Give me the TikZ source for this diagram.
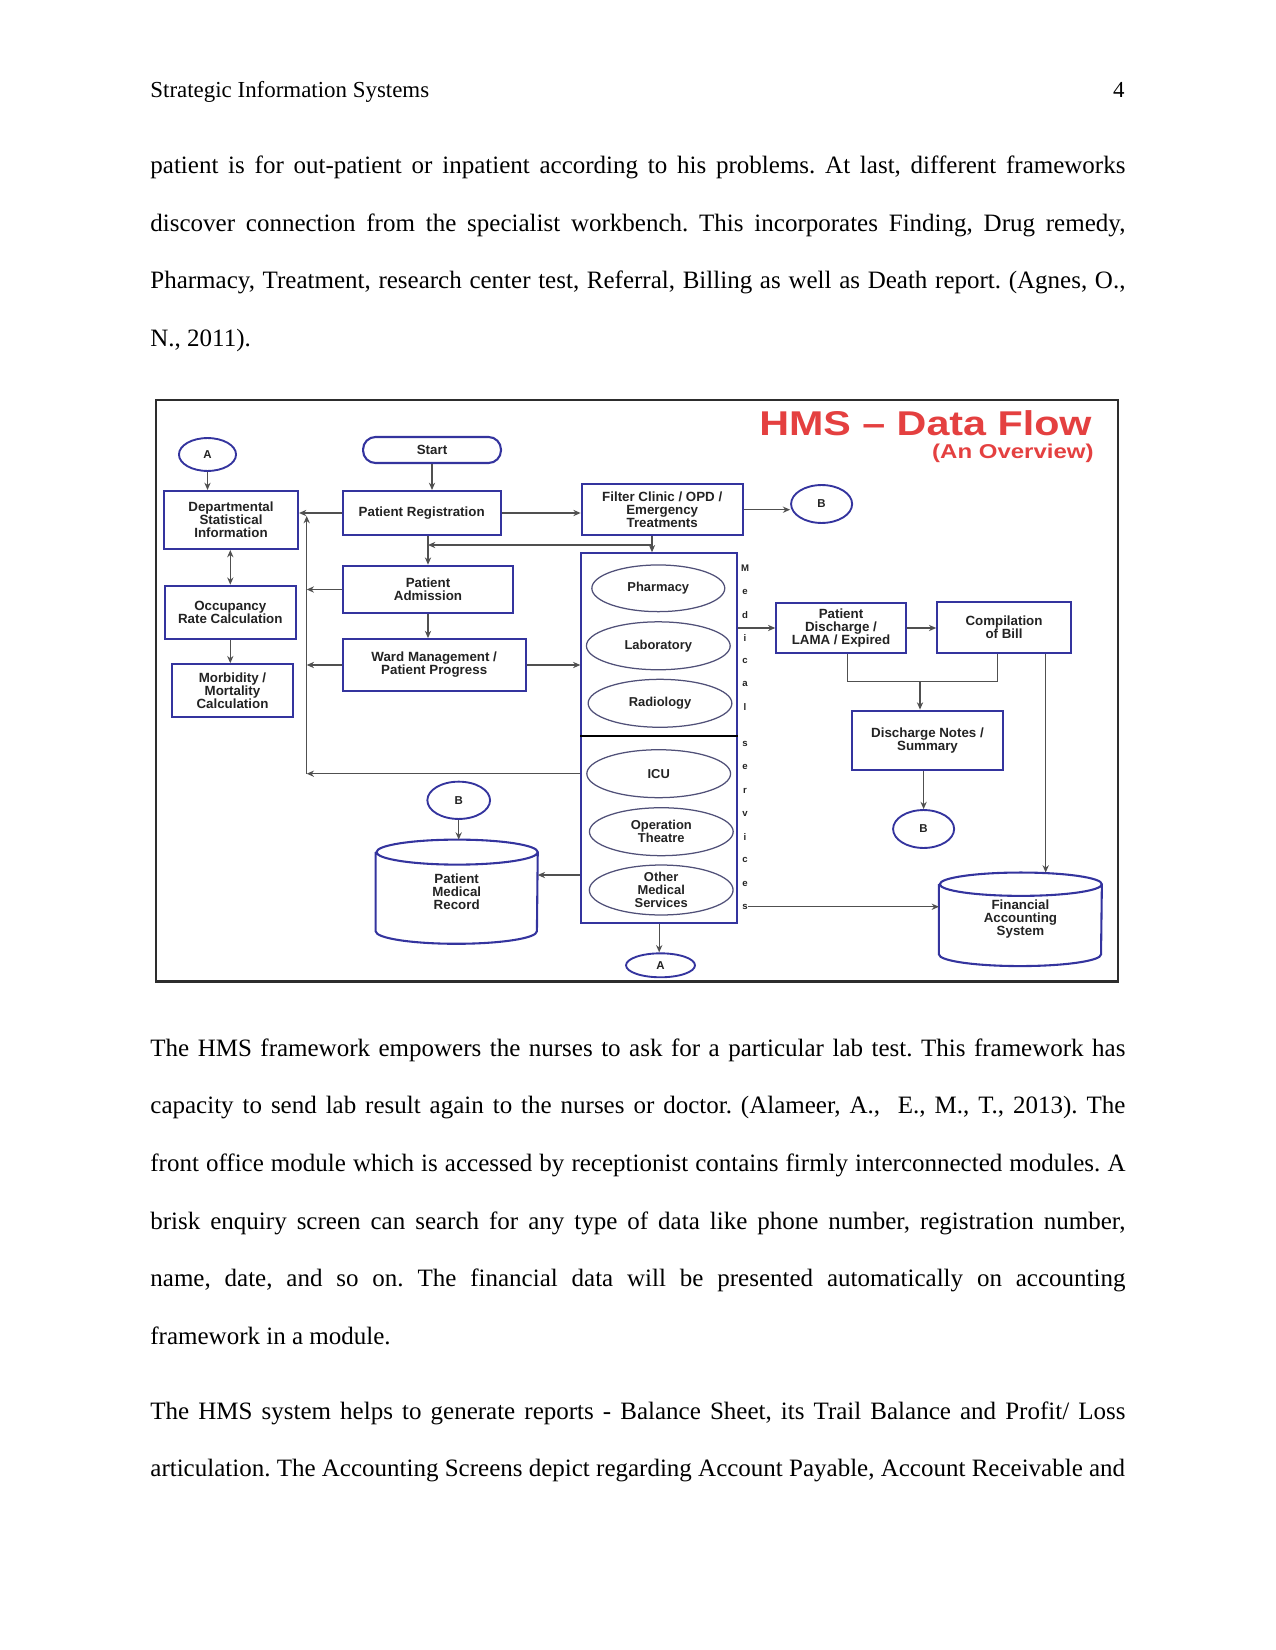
\documentclass[tikz,border=0pt]{standalone}
\usepackage{fontspec}
\setmainfont{Liberation Serif}
\newfontfamily\diafont{Liberation Sans}
\usepackage{graphicx}
\usetikzlibrary{shapes.geometric, arrows.meta, positioning}

\definecolor{boxblue}{RGB}{52,52,158}
\definecolor{ovalgray}{RGB}{80,80,120}
\definecolor{linegray}{RGB}{80,80,80}
\definecolor{framegray}{RGB}{45,45,45}
\definecolor{titlered}{RGB}{228,64,64}
\definecolor{textgray}{RGB}{35,35,35}

% outline of a data store drawn round a named node: name, half width, cap radius
\newcommand\dbdraw[3]{%
  \draw[draw=boxblue, line width=1pt] ([yshift=-#3]#1.north west) -- ([yshift=#3]#1.south west)
    arc[start angle=180, end angle=360, x radius=#2, y radius=#3]
    -- ([yshift=-#3]#1.north east)
    arc[start angle=0, end angle=180, x radius=#2, y radius=#3]
    arc[start angle=180, end angle=360, x radius=#2, y radius=#3];}

\begin{document}
\begin{tikzpicture}[
    x=0.48pt, y=-0.48pt,
    proc/.style={rectangle, draw=boxblue, line width=1pt, fill=white, align=center, inner sep=1pt,
        text=textgray, font=\diafont\bfseries\fontsize{6.4}{6.2}\selectfont},
    conn/.style={ellipse, draw=boxblue, line width=0.9pt, fill=white, inner sep=0pt,
        minimum width=29.3pt, minimum height=18.2pt, text=textgray, font=\diafont\bfseries\fontsize{5.5}{6}\selectfont},
    svc/.style={ellipse, draw=ovalgray, line width=0.6pt, fill=white, inner sep=0pt, align=center,
        minimum width=69pt, minimum height=23pt, text=textgray, font=\diafont\bfseries\fontsize{6.2}{6.2}\selectfont},
    store/.style={rectangle, inner sep=0pt, align=center, text=textgray,
        font=\diafont\bfseries\fontsize{6.4}{6.2}\selectfont},
    vlet/.style={inner sep=0pt, text=textgray, font=\diafont\bfseries\fontsize{4.6}{5}\selectfont},
    flow/.style={draw=linegray, line width=0.6pt, -{Stealth[length=3.5pt,width=3pt]}},
    link/.style={draw=linegray, line width=0.6pt},
    para/.style={anchor=base west, inner sep=0pt, text width=468pt, align=justify,
        font=\fontsize{12}{27.7}\selectfont}
]
\useasboundingbox (0,0) rectangle (1275,1650);

% page header
\node[anchor=base west, inner sep=0pt, font=\fontsize{11}{13}\selectfont] (hdr) at (150,98) {Strategic Information Systems};
\node[anchor=base east, inner sep=0pt, font=\fontsize{11}{13}\selectfont] (pgno) at (1125,98) {4};

% body text
\node[para] (p1) at (150,173.5) {\frenchspacing\hyphenpenalty=10000\exhyphenpenalty=10000
patient is for out-patient or inpatient according to his problems. At last, different frameworks\linebreak
discover connection from the specialist workbench. This incorporates Finding, Drug remedy,\linebreak
Pharmacy, Treatment, research center test, Referral, Billing as well as Death report. (Agnes, O.,\linebreak
N., 2011).};
\node[para] (p2) at (150,1056) {\frenchspacing\hyphenpenalty=10000\exhyphenpenalty=10000
The HMS framework empowers the nurses to ask for a particular lab test. This framework has\linebreak
capacity to send lab result again to the nurses or doctor. (Alameer, A.,\ \ E., M., T., 2013). The\linebreak
front office module which is accessed by receptionist contains firmly interconnected modules. A\linebreak
brisk enquiry screen can search for any type of data like phone number, registration number,\linebreak
name, date, and so on. The financial data will be presented automatically on accounting\linebreak
framework in a module.};
\node[para] (p3) at (150,1419) {\frenchspacing\hyphenpenalty=10000\exhyphenpenalty=10000\parfillskip=0pt
The HMS system helps to generate reports - Balance Sheet, its Trail Balance and Profit/ Loss\linebreak
articulation. The Accounting Screens depict regarding Account Payable, Account Receivable and};

% frame and title of the figure
\draw[draw=framegray, line width=1.1pt] (155.7,399.8) rectangle (1118.3,981.5);
\node[anchor=east, inner sep=0pt, text=titlered, font=\diafont\bfseries\fontsize{16.5}{18}\selectfont] (ttl) at (1092,423) {\scalebox{1.2}[1]{HMS – Data Flow}};
\node[anchor=east, inner sep=0pt, text=titlered, font=\diafont\bfseries\fontsize{9.6}{11}\selectfont] (subttl) at (1094,453.5) {\scalebox{1.2}[1]{(An Overview)}};

% left column
\node[conn, minimum width=27.4pt, minimum height=15.8pt] (Atop) at (207.5,454.5) {A};
\node[proc, minimum width=64.3pt, minimum height=27.8pt] (Dept) at (231,520) {Departmental\\Statistical\\Information};
\node[proc, minimum width=62.7pt, minimum height=25.7pt] (Occ) at (230.3,612.5) {Occupancy\\Rate Calculation};
\node[proc, minimum width=58.4pt, minimum height=25.2pt] (Morb) at (232.5,690.5) {Morbidity /\\Mortality\\Calculation};

% patient flow
\node[proc, rounded corners=6pt, minimum width=66.2pt, minimum height=12.5pt] (Start) at (432,450) {Start};
\node[proc, minimum width=75.8pt, minimum height=21.1pt] (Reg) at (421.7,513) {Patient Registration};
\node[proc, minimum width=81.9pt, minimum height=22.8pt] (Adm) at (428,589.5) {Patient\\Admission};
\node[proc, minimum width=87.8pt, minimum height=24.8pt] (Ward) at (434.2,665) {Ward Management /\\Patient Progress};
\node[proc, minimum width=77.3pt, minimum height=24.7pt] (Filter) at (662.2,509.7) {Filter Clinic / OPD /\\Emergency\\Treatments};
\node[conn] (Bfil) at (821.6,504) {B};

% medical services
\node[rectangle, draw=boxblue, line width=1pt, fill=white, minimum width=74.7pt, minimum height=177.3pt] (Med) at (659.2,738) {};
\draw[black, line width=1pt] (Med.west |- 0,736) -- (Med.east |- 0,736);
\node[svc, minimum width=63.8pt, minimum height=22.4pt] (Phar) at (658.3,588.3) {Pharmacy};
\node[svc] (Lab) at (658.3,645.8) {Laboratory};
\node[svc] (Rad) at (660,703.3) {Radiology};
\node[svc] (ICU) at (658.7,773.7) {ICU};
\node[svc] (OT) at (661.3,831.7) {Operation\\Theatre};
\node[svc] (Oth) at (661.2,890) {Other\\Medical\\Services};
\foreach \ch [count=\i] in {M,e,d,i,c,a,l}
    \node[vlet] (mv\i) at (745,{568.3+23.2*(\i-1)}) {\ch};
\foreach \ch [count=\i] in {s,e,r,v,i,c,e,s}
    \node[vlet] (sv\i) at (745,{744+23.25*(\i-1)}) {\ch};
\node[conn, minimum width=33.1pt, minimum height=11.5pt] (Abot) at (660.5,965.3) {A};

% records
\node[conn, minimum width=30.1pt, minimum height=17.9pt] (Bpmr) at (458.7,800.3) {B};
\node[store, minimum width=77.4pt, minimum height=49.6pt] (PMR) at (456.7,891.7) {Patient\\Medical\\Record};
\dbdraw{PMR}{38.7pt}{6pt}

% discharge and billing
\node[proc, minimum width=62.1pt, minimum height=24.2pt] (Dis) at (841,628) {Patient\\Discharge /\\LAMA / Expired};
\node[proc, minimum width=64.1pt, minimum height=24.8pt] (Comp) at (1004,627.5) {Compilation\\of Bill};
\node[proc, minimum width=72.8pt, minimum height=28.5pt] (Notes) at (927.5,740.3) {Discharge Notes /\\Summary};
\node[conn] (Bdis) at (923.6,829) {B};
\node[store, minimum width=77.8pt, minimum height=44.5pt] (Fin) at (1020.4,919.3) {Financial\\Accounting\\System};
\dbdraw{Fin}{38.9pt}{5.6pt}

% helper points
\coordinate (bustop) at (306.7,516);
\coordinate (busbot) at (306.7,773.7);
\coordinate (fbr) at (652,545);
\coordinate (join) at (920,681.7);
\coordinate (pmrin) at ([yshift=8pt]PMR.east);

% connectors, left side
\path[flow] (Atop.south) -- (Atop.south |- Dept.north);
\path[flow, {Stealth[length=3.5pt,width=3pt]}-{Stealth[length=3.5pt,width=3pt]}] (Occ.north) -- (Occ.north |- Dept.south);
\path[flow] (Occ.south) -- (Occ.south |- Morb.north);
\path[flow] (Reg.west) -- (Reg.west -| Dept.east);
\path[flow] (Adm.west) -- (Adm.west -| bustop);
\path[flow] (Ward.west) -- (Ward.west -| bustop);
\path[flow] (ICU -| Med.west) -- (busbot);
\path[flow] (busbot) -- (bustop);

% connectors, patient flow
\path[flow] (Start.south) -- (Start.south |- Reg.north);
\path[flow] (Reg.south -| Adm.north) -- (Adm.north);
\path[flow] (Adm.south) -- (Adm.south |- Ward.north);
\path[flow] (Reg.east) -- (Reg.east -| Filter.west);
\path[flow] (Filter.east) -- (Filter.east -| Bfil.west);
\path[flow] (fbr |- Filter.south) -- (fbr |- Med.north);
\path[flow] (fbr) -- (fbr -| Adm.north);
\path[flow] (Ward.east) -- (Ward.east -| Med.west);
\path[flow] (pmrin -| Med.west) -- (pmrin);
\path[flow] (Med.south) -- (Med.south |- Abot.north);
\path[flow] (Bpmr.south) -- (Bpmr.south |- PMR.north);

% connectors, discharge and billing
\path[flow] (Dis.west -| Med.east) -- (Dis.west);
\path[flow] (Dis.east) -- (Dis.east -| Comp.west);
\path[link] ([xshift=3pt]Dis.south) |- (join) -| ([xshift=-3pt]Comp.south);
\path[flow] (join) -- (join |- Notes.north);
\path[flow] (Notes.south -| Bdis.north) -- (Bdis.north);
\path[flow] ([xshift=20pt]Comp.south) -- ([xshift=20pt]Comp.south |- Fin.north);
\path[flow] (sv8.east) -- (sv8.east -| Fin.west);

\end{tikzpicture}
\end{document}
